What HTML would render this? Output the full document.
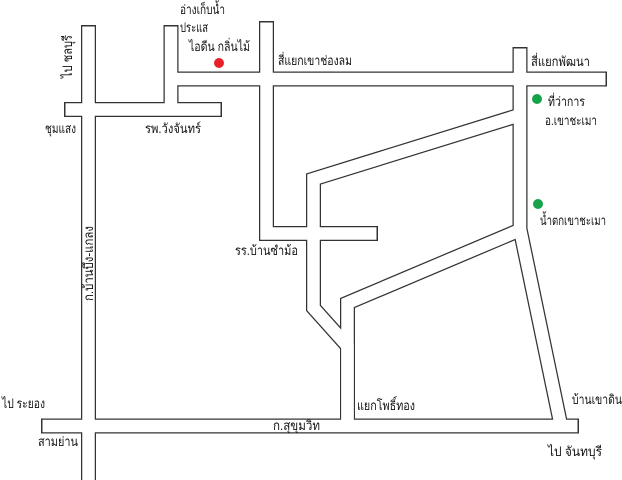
<!DOCTYPE html>
<html><head><meta charset="utf-8"><style>
html,body{margin:0;padding:0;background:#fff;}
svg{display:block;}
text{font-family:"Liberation Sans","Noto Sans CJK SC",sans-serif;font-size:13px;fill:#111;}
</style></head><body>
<svg width="622" height="480" viewBox="0 0 622 480" xmlns="http://www.w3.org/2000/svg">
<rect width="622" height="480" fill="#fff"/>
<g fill="none" stroke="#333" stroke-width="15" stroke-linejoin="miter" stroke-linecap="butt">
<polyline points="88.5,25 88.5,482"/>
<polyline points="64,109.5 222,109.5"/>
<polyline points="171,25 171,109.5"/>
<polyline points="171,79 607,79"/>
<polyline points="266.5,21 266.5,233.5 378,233.5"/>
<polyline points="520,115 313.5,179 313.5,308 347.5,346 347.5,426"/>
<polyline points="520,230 347.5,303 347.5,426"/>
<polyline points="520,47 520,229 561,426"/>
<polyline points="41,426 579,426"/>
</g>
<g fill="none" stroke="#fff" stroke-width="12.5" stroke-linejoin="miter" stroke-linecap="butt">
<polyline points="88.5,26.5 88.5,482"/>
<polyline points="65.5,109.5 220.5,109.5"/>
<polyline points="171,26.5 171,109.5"/>
<polyline points="171,79 605.5,79"/>
<polyline points="266.5,22.5 266.5,233.5 376.5,233.5"/>
<polyline points="520,115 313.5,179 313.5,308 347.5,346 347.5,426"/>
<polyline points="520,230 347.5,303 347.5,426"/>
<polyline points="520,48.5 520,229 561,426"/>
<polyline points="42.5,426 577.5,426"/>
</g>
<circle cx="219" cy="63" r="5" fill="#e8202a"/>
<circle cx="537" cy="99" r="5" fill="#16a34a"/>
<circle cx="538" cy="204" r="5" fill="#16a34a"/>
<g lengthAdjust="spacingAndGlyphs">
<text x="180" y="14" textLength="45" lengthAdjust="spacingAndGlyphs">อ่างเก็บน้ำ</text>
<text x="180" y="32" textLength="28" lengthAdjust="spacingAndGlyphs">ประแส</text>
<text x="189" y="51" textLength="61" lengthAdjust="spacingAndGlyphs">ไอดีน กลิ่นไม้</text>
<text x="278" y="65" textLength="74" lengthAdjust="spacingAndGlyphs">สี่แยกเขาช่องลม</text>
<text x="531" y="66" textLength="59" lengthAdjust="spacingAndGlyphs">สี่แยกพัฒนา</text>
<text transform="translate(72,78) rotate(-90)" textLength="43" lengthAdjust="spacingAndGlyphs">ไป ชลบุรี</text>
<text x="45" y="133" textLength="31" lengthAdjust="spacingAndGlyphs">ชุมแสง</text>
<text x="145" y="133" textLength="56" lengthAdjust="spacingAndGlyphs">รพ.วังจันทร์</text>
<text x="548" y="106" textLength="37" lengthAdjust="spacingAndGlyphs">ที่ว่าการ</text>
<text x="545" y="125" textLength="52" lengthAdjust="spacingAndGlyphs">อ.เขาชะเมา</text>
<text x="540" y="225" textLength="66" lengthAdjust="spacingAndGlyphs">น้ำตกเขาชะเมา</text>
<text x="235" y="255" textLength="63" lengthAdjust="spacingAndGlyphs">รร.บ้านซำม้อ</text>
<text transform="translate(93,301) rotate(-90)" textLength="75" lengthAdjust="spacingAndGlyphs">ก.บ้านบึง-แกลง</text>
<text x="2" y="408" textLength="43" lengthAdjust="spacingAndGlyphs">ไป ระยอง</text>
<text x="357" y="410" textLength="58" lengthAdjust="spacingAndGlyphs">แยกโพธิ์ทอง</text>
<text x="572" y="404" textLength="50" lengthAdjust="spacingAndGlyphs">บ้านเขาดิน</text>
<text x="273" y="430" textLength="47" lengthAdjust="spacingAndGlyphs">ก.สุขุมวิท</text>
<text x="38" y="446" textLength="40" lengthAdjust="spacingAndGlyphs">สามย่าน</text>
<text x="548" y="456" textLength="54" lengthAdjust="spacingAndGlyphs">ไป จันทบุรี</text>
</g>
</svg>
</body></html>
